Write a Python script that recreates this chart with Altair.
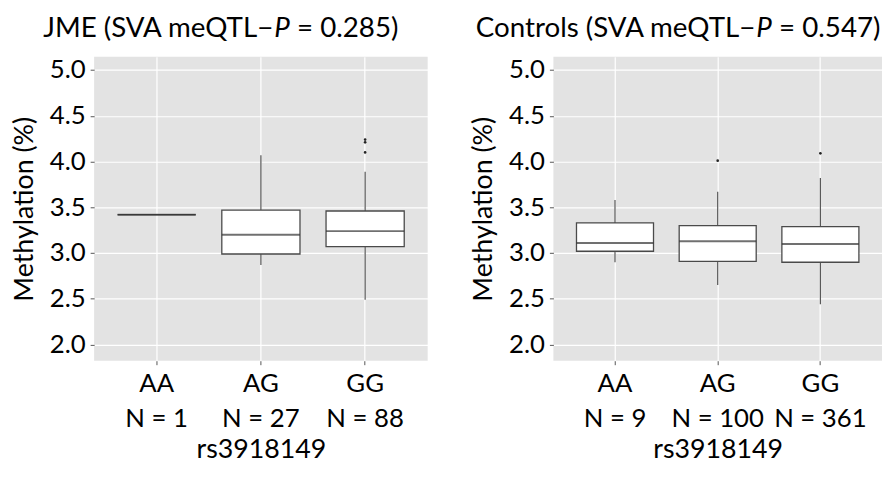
import altair as alt
import pandas as pd

# ---- data ----
genotypes = ["AA", "AG", "GG"]

jme_n = [1, 27, 88]
jme_whisker_lo = [3.42, 2.87, 2.49]
jme_q1 = [3.42, 2.99, 3.07]
jme_median = [3.42, 3.20, 3.24]
jme_q3 = [3.42, 3.47, 3.46]
jme_whisker_hi = [3.42, 4.07, 3.89]
jme_outlier_geno = ["GG", "GG", "GG"]
jme_outlier_val = [4.24, 4.21, 4.10]

ctl_n = [9, 100, 361]
ctl_whisker_lo = [2.90, 2.65, 2.44]
ctl_q1 = [3.02, 2.91, 2.90]
ctl_median = [3.11, 3.13, 3.10]
ctl_q3 = [3.33, 3.30, 3.29]
ctl_whisker_hi = [3.58, 3.67, 3.82]
ctl_outlier_geno = ["AG", "GG"]
ctl_outlier_val = [4.01, 4.09]

title_prefix = ["JME (SVA meQTL\u2212", "Controls (SVA meQTL\u2212"]
title_p = ["P", "P"]
title_suffix = ["= 0.285)", "= 0.547)"]
y_ticks = [2.0, 2.5, 3.0, 3.5, 4.0, 4.5, 5.0]

FONT = "Lato"
BG = "#E3E3E3"
EDGE = "#4a4a4a"
TFS = 28


def panel(idx, n, lo, q1, med, q3, hi, og, ov, width, p_x):
    labels = [f"{g}\nN = {k}" for g, k in zip(genotypes, n)]
    lab_map = dict(zip(genotypes, labels))
    df = pd.DataFrame({"label": labels, "lo": lo, "q1": q1, "med": med, "q3": q3, "hi": hi})
    out = pd.DataFrame({"label": [lab_map[g] for g in og], "val": ov})

    xscale = alt.Scale(domain=labels, paddingInner=0.25, paddingOuter=0.225)
    yscale = alt.Scale(domain=[1.824, 5.144], nice=False, zero=False)
    x = alt.X("label:N", scale=xscale, sort=labels,
              axis=alt.Axis(title="rs3918149", labelExpr="split(datum.label, '\\n')",
                            labelAngle=0, labelLineHeight=35, labelPadding=6,
                            titlePadding=6))
    yaxis = alt.Axis(title="Methylation (%)", values=y_ticks, format=".1f",
                     titlePadding=11, labelPadding=5)

    base = alt.Chart(df)
    whisk = base.mark_rule(color="#555555", strokeWidth=1.2).encode(
        x=x, y=alt.Y("lo:Q", scale=yscale, axis=yaxis), y2="hi:Q")
    box = base.mark_bar(fill="white", stroke=EDGE, strokeWidth=1.3).encode(
        x=x, y=alt.Y("q1:Q", scale=yscale, axis=yaxis), y2="q3:Q")
    step = width / 3.2
    median = base.mark_tick(color="#333333", thickness=2, size=step * 0.75).encode(
        x=x, y=alt.Y("med:Q", scale=yscale, axis=yaxis))
    pts = alt.Chart(out).mark_circle(color="#222222", size=7, opacity=1).encode(
        x=x, y=alt.Y("val:Q", scale=yscale, axis=yaxis))

    tdf = pd.DataFrame({"a": [title_prefix[idx]], "p": [title_p[idx]], "s": [title_suffix[idx]]})
    tbase = alt.Chart(tdf)
    t1 = tbase.mark_text(font=FONT, fontSize=TFS, align="right", baseline="alphabetic",
                         color="black").encode(
        text="a:N", x=alt.value(p_x - 1), y=alt.value(-20))
    t2 = tbase.mark_text(font=FONT, fontSize=TFS, fontStyle="italic", align="left",
                         baseline="alphabetic", color="black").encode(
        text="p:N", x=alt.value(p_x), y=alt.value(-20))
    t3 = tbase.mark_text(font=FONT, fontSize=TFS, align="left", baseline="alphabetic",
                         color="black").encode(
        text="s:N", x=alt.value(p_x + 23), y=alt.value(-20))

    return alt.layer(whisk, box, median, pts, t1, t2, t3).properties(width=width, height=307)


left = panel(0, jme_n, jme_whisker_lo, jme_q1, jme_median, jme_q3, jme_whisker_hi,
             jme_outlier_geno, jme_outlier_val, 337, 182)
right = panel(1, ctl_n, ctl_whisker_lo, ctl_q1, ctl_median, ctl_q3, ctl_whisker_hi,
              ctl_outlier_geno, ctl_outlier_val, 332, 205)

chart = alt.hconcat(left, right, spacing=42).properties(
    padding={"left": 2, "top": 5, "right": 0, "bottom": 0}
).configure_view(
    fill=BG, stroke=None
).configure_axis(
    grid=True, gridColor="white", gridWidth=1.2, domain=False,
    tickColor="#555555", tickSize=4, labelFont=FONT, titleFont=FONT,
    labelFontSize=26, titleFontSize=27, labelColor="black", titleColor="black",
    titleFontWeight="normal"
)

chart.save("out.html", embed_options={"renderer": "svg", "actions": False})
